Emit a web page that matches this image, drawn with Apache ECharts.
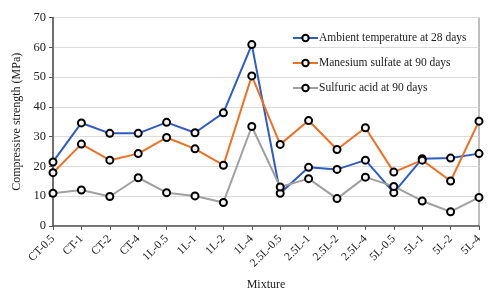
<!DOCTYPE html>
<html>
<head>
<meta charset="utf-8">
<script src="https://cdn.jsdelivr.net/npm/echarts@6/dist/echarts.min.js"></script>
<style>
  html, body { margin: 0; padding: 0; background: #fff; }
  #chart { width: 500px; height: 296px; }
</style>
</head>
<body>
<div id="chart"></div>
<script>
const categories = ['CT-0.5', 'CT-1', 'CT-2', 'CT-4', '1L-0.5', '1L-1', '1L-2', '1L-4',
  '2.5L-0.5', '2.5L-1', '2.5L-2', '2.5L-4', '5L-0.5', '5L-1', '5L-2', '5L-4']
const ambient28 = [21.5, 34.6, 31.1, 31.1, 34.8, 31.3, 38.0, 60.9, 11.0, 19.7, 19.0, 22.1, 11.2, 22.6, 22.8, 24.3]
const magnesium90 = [17.9, 27.5, 22.1, 24.3, 29.7, 25.9, 20.4, 50.4, 27.4, 35.4, 25.7, 33.0, 18.1, 22.1, 15.1, 35.2]
const sulfuric90 = [11.0, 12.1, 9.9, 16.2, 11.2, 10.1, 7.9, 33.4, 13.1, 15.9, 9.2, 16.4, 13.3, 8.4, 4.8, 9.6]
const seriesNames = ['Ambient temperature at 28 days', 'Manesium sulfate at 90 days', 'Sulfuric acid at 90 days']
const colors = ['#2E5CC4', '#EE7022', '#A0A0A0']

const font = 'Liberation Serif'
const chart = echarts.init(document.getElementById('chart'))

const mkSeries = (name, data, color) => ({
  name: name,
  type: 'line',
  data: data,
  symbol: 'circle',
  symbolSize: 7,
  lineStyle: { color: color, width: 2 },
  itemStyle: { color: '#f4f4f4', borderColor: '#000', borderWidth: 2 },
  emphasis: { disabled: true }
})

chart.setOption({
  animation: false,
  textStyle: { fontFamily: font },
  grid: {
    left: 53, right: 21, top: 17.5, bottom: 67,
    show: true, borderColor: '#7f7f7f', borderWidth: 1
  },
  legend: {
    data: seriesNames.map((n, i) => ({
      name: n,
      itemStyle: { color: '#f4f4f4', borderColor: '#000', borderWidth: 2 },
      lineStyle: { color: colors[i] }
    })),
    orient: 'vertical',
    left: 287, top: 27,
    itemGap: 13,
    itemWidth: 25, itemHeight: 8,
    textStyle: { fontFamily: font, fontSize: 11.5, color: '#222', padding: [0, 0, 0, -4] }
  },
  xAxis: {
    type: 'category',
    data: categories,
    boundaryGap: false,
    name: 'Mixture',
    nameLocation: 'middle',
    nameGap: 53,
    nameTextStyle: { fontFamily: font, fontSize: 12, color: '#222' },
    axisLine: { lineStyle: { color: '#595959', width: 1.5 } },
    axisTick: { show: true, alignWithLabel: true, length: 4, lineStyle: { color: '#595959' } },
    axisLabel: { rotate: 45, fontFamily: font, fontSize: 11.5, color: '#222', interval: 0, margin: 11 },
    splitLine: { show: false }
  },
  yAxis: {
    type: 'value',
    min: 0, max: 70, interval: 10,
    name: 'Compressive strength (MPa)',
    nameLocation: 'middle',
    nameGap: 30,
    nameTextStyle: { fontFamily: font, fontSize: 12, color: '#222' },
    axisLine: { show: true, lineStyle: { color: '#595959', width: 1.5 } },
    axisTick: { show: true, length: 4, lineStyle: { color: '#595959' } },
    axisLabel: { fontFamily: font, fontSize: 12.5, color: '#222', margin: 7 },
    splitLine: { lineStyle: { color: '#dcdcdc', width: 1 } }
  },
  series: [
    mkSeries(seriesNames[0], ambient28, colors[0]),
    mkSeries(seriesNames[1], magnesium90, colors[1]),
    mkSeries(seriesNames[2], sulfuric90, colors[2])
  ]
})
</script>
</body>
</html>
